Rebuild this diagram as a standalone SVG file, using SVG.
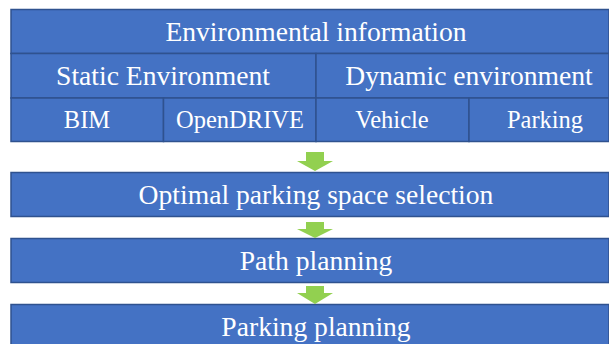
<svg xmlns="http://www.w3.org/2000/svg" width="609" height="344" viewBox="0 0 609 344">
  <style>
    .cell { fill: #4472C4; stroke: #2F528F; stroke-width: 1.5; }
    .t { font-family: "Liberation Serif", "Times New Roman", serif; fill: #FFFFFF; text-anchor: middle; }
    .big { font-size: 27.6px; }
    .small { font-size: 24.5px; }
    .arrow { fill: #92D050; }
  </style>
  <rect width="609" height="344" fill="#FFFFFF"/>

  <!-- environment table -->
  <g id="env-info">
    <rect class="cell" x="11" y="9.5" width="598" height="44"/>
    <text class="t big" x="316" y="41">Environmental information</text>
  </g>
  <g id="static-env">
    <rect class="cell" x="11" y="53.5" width="305" height="44.5"/>
    <text class="t big" x="163" y="85">Static Environment</text>
  </g>
  <g id="dynamic-env">
    <rect class="cell" x="316" y="53.5" width="293" height="44.5"/>
    <text class="t big" x="469" y="85">Dynamic environment</text>
  </g>
  <g id="bim">
    <rect class="cell" x="11" y="98" width="152.5" height="43.5"/>
    <text class="t small" x="87" y="128">BIM</text>
  </g>
  <g id="opendrive">
    <rect class="cell" x="163.5" y="98" width="152.5" height="43.5"/>
    <text class="t small" x="240" y="128">OpenDRIVE</text>
  </g>
  <g id="vehicle">
    <rect class="cell" x="316" y="98" width="153" height="43.5"/>
    <text class="t small" x="392" y="128">Vehicle</text>
  </g>
  <g id="parking">
    <rect class="cell" x="469" y="98" width="140" height="43.5"/>
    <text class="t small" x="545" y="128">Parking</text>
  </g>

  <!-- process steps -->
  <g id="space-selection">
    <rect class="cell" x="11" y="172.5" width="598" height="44"/>
    <text class="t big" x="316" y="204">Optimal parking space selection</text>
  </g>
  <g id="path-planning">
    <rect class="cell" x="11" y="238.5" width="598" height="44"/>
    <text class="t big" x="316" y="270">Path planning</text>
  </g>
  <g id="parking-planning">
    <rect class="cell" x="11" y="304.5" width="598" height="45"/>
    <text class="t big" x="316" y="336">Parking planning</text>
  </g>

  <!-- flow arrows -->
  <g id="connectors">
    <polygon class="arrow" points="306,152 324,152 324,161 333,161 315,171 297,161 306,161"/>
    <polygon class="arrow" points="306,222 324,222 324,229 333,229 315,238 297,229 306,229"/>
    <polygon class="arrow" points="306,286 324,286 324,293 333,293 315,304 297,293 306,293"/>
  </g>
</svg>
